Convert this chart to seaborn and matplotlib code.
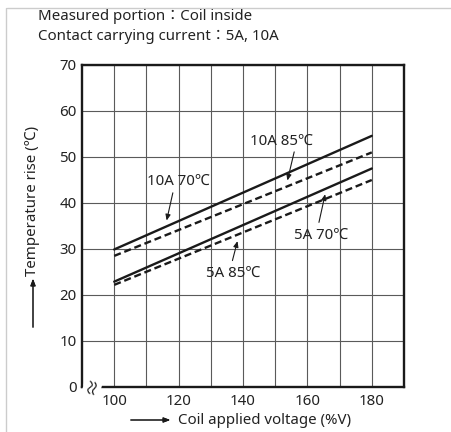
import matplotlib
matplotlib.use('Agg')
import matplotlib.pyplot as plt
from matplotlib.lines import Line2D
import pandas as pd
import seaborn as sns

# Values
voltage = [100, 180]
temp_10a_70 = [29.9, 54.6]
temp_10a_85 = [28.5, 51.0]
temp_5a_70 = [22.9, 47.5]
temp_5a_85 = [22.2, 45.0]
series_names = ['10A 70℃', '10A 85℃', '5A 70℃', '5A 85℃']
x_ticks = [100, 120, 140, 160, 180]
y_ticks = [0, 10, 20, 30, 40, 50, 60, 70]

# Long-form table for seaborn
rows = []
for name, vals in zip(series_names, [temp_10a_70, temp_10a_85, temp_5a_70, temp_5a_85]):
    for v, t in zip(voltage, vals):
        rows.append({'voltage': v, 'temp': t, 'series': name})
df = pd.DataFrame(rows)

sns.set_style('white')
plt.rcParams['font.family'] = ['Noto Sans', 'Noto Sans CJK JP', 'DejaVu Sans']
txt = '#222222'
fs = 10.8

fig = plt.figure(figsize=(4.52, 4.32), dpi=100)
ax = fig.add_axes([82 / 452, 45 / 432, 322 / 452, 322 / 432])

sns.lineplot(data=df, x='voltage', y='temp', hue='series', style='series',
             palette=['#1a1a1a'] * 4,
             dashes={'10A 70℃': '', '10A 85℃': (3, 1.6), '5A 70℃': '', '5A 85℃': (3, 1.6)},
             linewidth=1.7, legend=False, ax=ax, zorder=3)

ax.set_xlim(90, 190)
ax.set_ylim(0, 70)
ax.set_xticks(x_ticks)
ax.set_yticks(y_ticks)
ax.set_xticks(range(100, 190, 10), minor=True)
ax.grid(True, which='both', axis='x', color='#5a5a5a', linewidth=0.8)
ax.grid(True, which='major', axis='y', color='#5a5a5a', linewidth=0.8)
ax.tick_params(which='both', length=0, labelsize=fs, colors=txt)
ax.tick_params(axis='x', pad=5)
ax.tick_params(axis='y', pad=4)
ax.set_xlabel('')
ax.set_ylabel('')
for s in ax.spines.values():
    s.set_visible(True)
    s.set_color('#1a1a1a')
    s.set_linewidth(1.7)

# Curve labels with arrows
arrow = dict(arrowstyle='-|>,head_length=0.35,head_width=0.15', color='#1a1a1a', lw=0.8)
notes = [('10A 85℃', (152, 53.5), (156.1, 51.7), (153.6, 44.3)),
         ('10A 70℃', (120, 44.8), (118.4, 42.8), (116.1, 35.6)),
         ('5A 70℃', (164.1, 33.0), (163.4, 35.2), (165.7, 42.5)),
         ('5A 85℃', (137, 24.7), (136.5, 26.9), (138.5, 32.3))]
for label, pos, tail, head in notes:
    ax.text(pos[0], pos[1], label, ha='center', va='center', fontsize=fs, color=txt,
            zorder=5)
    ax.annotate('', xy=head, xytext=tail, arrowprops=arrow, zorder=5)

# Axis break mark
ax.text(93.3, 0.3, '≈', rotation=75, ha='center', va='center', fontsize=13,
        color='#1a1a1a', clip_on=False, zorder=6,
        bbox=dict(facecolor='white', edgecolor='none', pad=0))

# Header text
fig.text(38 / 452, 1 - 17 / 432, 'Measured portion：Coil inside', fontsize=fs,
         color=txt, va='center', ha='left')
fig.text(38 / 452, 1 - 36 / 432, 'Contact carrying current：5A, 10A', fontsize=fs,
         color=txt, va='center', ha='left')

# Axis titles with arrows
fig.text(178 / 452, 1 - 420 / 432, 'Coil applied voltage (%V)', fontsize=fs,
         color=txt, va='center', ha='left')
fig.add_artist(plt.annotate('', xy=(173 / 452, 1 - 420 / 432), xytext=(128 / 452, 1 - 420 / 432),
                            xycoords='figure fraction', textcoords='figure fraction',
                            arrowprops=dict(arrowstyle='-|>,head_length=0.4,head_width=0.15',
                                            color='#1a1a1a', lw=0.8)))
fig.text(33 / 452, 1 - 201 / 432, 'Temperature rise (℃)', fontsize=fs, rotation=90,
         color=txt, va='center', ha='center')
fig.add_artist(plt.annotate('', xy=(33 / 452, 1 - 276 / 432), xytext=(33 / 452, 1 - 330 / 432),
                            xycoords='figure fraction', textcoords='figure fraction',
                            arrowprops=dict(arrowstyle='-|>,head_length=0.4,head_width=0.15',
                                            color='#1a1a1a', lw=0.8)))

# Light frame at top and left edge
fig.add_artist(Line2D([7 / 452, 1], [1 - 8 / 432, 1 - 8 / 432], color='#cccccc', lw=1))
fig.add_artist(Line2D([6 / 452, 6 / 452], [0, 1 - 8 / 432], color='#cccccc', lw=1))

fig.savefig('out.png', dpi=100)
